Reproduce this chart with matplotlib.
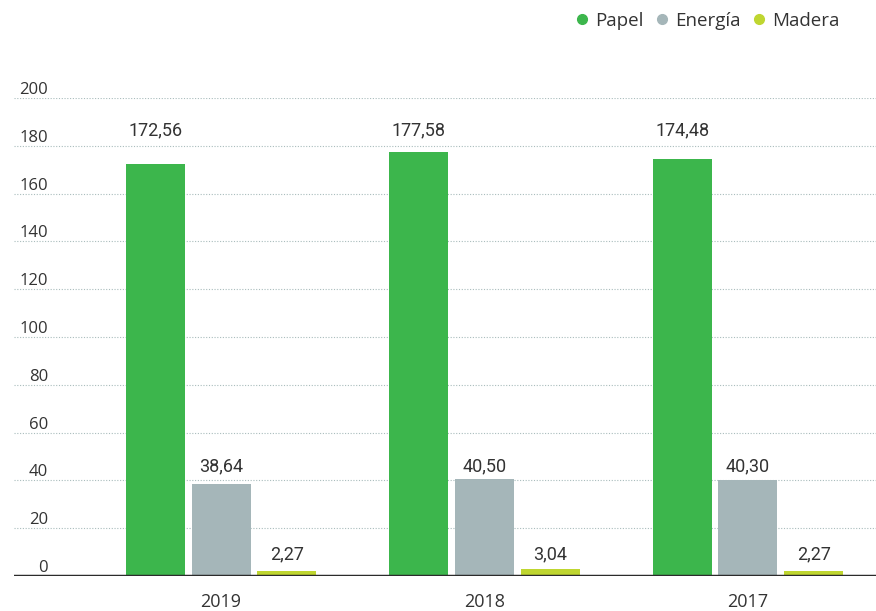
import numpy as np
import matplotlib.pyplot as plt
from matplotlib.lines import Line2D
from matplotlib.transforms import blended_transform_factory, offset_copy

plt.rcParams['font.family'] = ['Open Sans', 'DejaVu Sans']

# data
years = ['2019', '2018', '2017']
series = ['Papel', 'Energía', 'Madera']
papel = [172.56, 177.58, 174.48]
energia = [38.64, 40.50, 40.30]
madera = [2.27, 3.04, 2.27]
colors = ['#3cb64c', '#a5b6b9', '#bfd630']
yticks = [0, 20, 40, 60, 80, 100, 120, 140, 160, 180, 200]

fig = plt.figure(figsize=(8.76, 6.11), dpi=100)
ax = fig.add_axes([14 / 876, 35 / 611, 862 / 876, 478 / 611])

x = np.arange(len(years))
width = 0.224
offsets = [-0.25, 0, 0.25]
label_gap = [16, 8, 9]  # px between tallest bar of a series and its label row
for vals, off, c, gap in zip([papel, energia, madera], offsets, colors, label_gap):
    bars = ax.bar(x + off, vals, width, color=c, zorder=2)
    row = max(vals)
    for b, v in zip(bars, vals):
        ax.annotate(f'{v:.2f}'.replace('.', ','), (b.get_x() + b.get_width() / 2, row),
                    xytext=(0, gap * 0.72), textcoords='offset points', ha='center',
                    va='baseline', fontsize=13, color='#333333',
                    family=['Roboto', 'DejaVu Sans'])

ax.set_xlim(-0.786, 2.486)
ax.set_ylim(0, 200)

# dotted grid lines
for t in yticks[1:]:
    ax.axhline(t, color='#a9bcbc', linestyle=(0, (1, 1.5)), linewidth=0.8, zorder=1)
ax.axhline(0, color='#2b2b2b', linewidth=2.5, zorder=3)

# y labels sitting above the grid lines
trans = blended_transform_factory(ax.transAxes, ax.transData)
trans = offset_copy(trans, fig=fig, x=34, y=4, units='dots')
for t in yticks:
    ax.text(0, t, str(t), transform=trans, ha='right', va='baseline',
            fontsize=12, color='#333333')

ax.set_yticks([])
ax.set_xticks(x, years)
ax.tick_params(axis='x', length=0, pad=12, labelsize=13, labelcolor='#333333')
for s in ax.spines.values():
    s.set_visible(False)

handles = [Line2D([], [], marker='o', linestyle='', markersize=7, color=c) for c in colors]
fig.legend(handles, series, loc='upper right', bbox_to_anchor=(853 / 876, 1.002), ncol=3,
           frameon=False, fontsize=13.5, handlelength=0.8, handletextpad=0.3,
           columnspacing=0.6, labelcolor='#333333', borderaxespad=0.3)

fig.savefig('out.png', dpi=100)
